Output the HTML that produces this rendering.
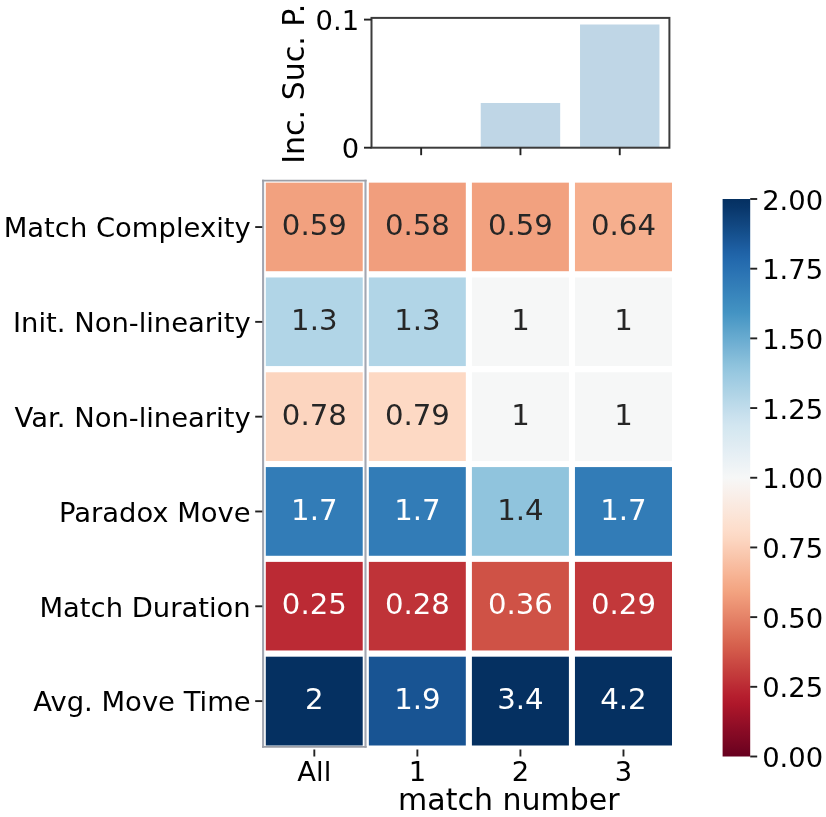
<!DOCTYPE html>
<html><head><meta charset="utf-8"><title>heatmap</title>
<style>html,body{margin:0;padding:0;background:#fff}svg{display:block;filter:blur(0.45px)}</style></head>
<body>
<svg width="826" height="817" viewBox="0 0 826 817" font-family='"DejaVu Sans","Liberation Sans",sans-serif'>
<rect width="826" height="817" fill="#fff"/>
<defs><linearGradient id="cb" x1="0" y1="1" x2="0" y2="0">
<stop offset="0.0000" stop-color="#67001f"/>
<stop offset="0.0156" stop-color="#730421"/>
<stop offset="0.0312" stop-color="#7f0823"/>
<stop offset="0.0469" stop-color="#8a0b25"/>
<stop offset="0.0625" stop-color="#960f27"/>
<stop offset="0.0781" stop-color="#a21328"/>
<stop offset="0.0938" stop-color="#ae172a"/>
<stop offset="0.1094" stop-color="#b61f2e"/>
<stop offset="0.1250" stop-color="#bb2a34"/>
<stop offset="0.1406" stop-color="#c13639"/>
<stop offset="0.1562" stop-color="#c6413e"/>
<stop offset="0.1719" stop-color="#cc4c44"/>
<stop offset="0.1875" stop-color="#d25849"/>
<stop offset="0.2031" stop-color="#d7634f"/>
<stop offset="0.2188" stop-color="#dc6e57"/>
<stop offset="0.2344" stop-color="#e17860"/>
<stop offset="0.2500" stop-color="#e58368"/>
<stop offset="0.2656" stop-color="#ea8e70"/>
<stop offset="0.2812" stop-color="#ef9979"/>
<stop offset="0.2969" stop-color="#f3a481"/>
<stop offset="0.3125" stop-color="#f5ac8b"/>
<stop offset="0.3281" stop-color="#f7b596"/>
<stop offset="0.3438" stop-color="#f8bda1"/>
<stop offset="0.3594" stop-color="#f9c6ac"/>
<stop offset="0.3750" stop-color="#fbceb7"/>
<stop offset="0.3906" stop-color="#fcd7c2"/>
<stop offset="0.4062" stop-color="#fdddcb"/>
<stop offset="0.4219" stop-color="#fce2d2"/>
<stop offset="0.4375" stop-color="#fbe6da"/>
<stop offset="0.4531" stop-color="#faeae1"/>
<stop offset="0.4688" stop-color="#f9efe9"/>
<stop offset="0.4844" stop-color="#f8f3f0"/>
<stop offset="0.5000" stop-color="#f6f7f7"/>
<stop offset="0.5156" stop-color="#f0f4f6"/>
<stop offset="0.5312" stop-color="#eaf1f5"/>
<stop offset="0.5469" stop-color="#e4eef4"/>
<stop offset="0.5625" stop-color="#deebf2"/>
<stop offset="0.5781" stop-color="#d8e9f1"/>
<stop offset="0.5938" stop-color="#d2e6f0"/>
<stop offset="0.6094" stop-color="#cae1ee"/>
<stop offset="0.6250" stop-color="#c0dceb"/>
<stop offset="0.6406" stop-color="#b6d7e8"/>
<stop offset="0.6562" stop-color="#acd2e5"/>
<stop offset="0.6719" stop-color="#a2cde3"/>
<stop offset="0.6875" stop-color="#98c8e0"/>
<stop offset="0.7031" stop-color="#8dc2dc"/>
<stop offset="0.7188" stop-color="#81bad8"/>
<stop offset="0.7344" stop-color="#75b2d4"/>
<stop offset="0.7500" stop-color="#68abd0"/>
<stop offset="0.7656" stop-color="#5ca3cb"/>
<stop offset="0.7812" stop-color="#4f9bc7"/>
<stop offset="0.7969" stop-color="#4393c3"/>
<stop offset="0.8125" stop-color="#3e8cbf"/>
<stop offset="0.8281" stop-color="#3885bc"/>
<stop offset="0.8438" stop-color="#337eb8"/>
<stop offset="0.8594" stop-color="#2e77b5"/>
<stop offset="0.8750" stop-color="#2870b1"/>
<stop offset="0.8906" stop-color="#2369ad"/>
<stop offset="0.9062" stop-color="#1e61a5"/>
<stop offset="0.9219" stop-color="#1a5899"/>
<stop offset="0.9375" stop-color="#15508d"/>
<stop offset="0.9531" stop-color="#114781"/>
<stop offset="0.9688" stop-color="#0d3f76"/>
<stop offset="0.9844" stop-color="#08366a"/>
<stop offset="1.0000" stop-color="#053061"/>
</linearGradient></defs>
<rect x="262.80" y="179.65" width="103.05" height="94.81" fill="#f2a17f" stroke="#fff" stroke-width="6.0"/>
<rect x="365.85" y="179.65" width="103.05" height="94.81" fill="#f19e7d" stroke="#fff" stroke-width="6.0"/>
<rect x="468.90" y="179.65" width="103.05" height="94.81" fill="#f2a17f" stroke="#fff" stroke-width="6.0"/>
<rect x="571.95" y="179.65" width="103.05" height="94.81" fill="#f6af8e" stroke="#fff" stroke-width="6.0"/>
<rect x="262.80" y="274.46" width="103.05" height="94.81" fill="#b1d5e7" stroke="#fff" stroke-width="6.0"/>
<rect x="365.85" y="274.46" width="103.05" height="94.81" fill="#b1d5e7" stroke="#fff" stroke-width="6.0"/>
<rect x="468.90" y="274.46" width="103.05" height="94.81" fill="#f6f7f7" stroke="#fff" stroke-width="6.0"/>
<rect x="571.95" y="274.46" width="103.05" height="94.81" fill="#f6f7f7" stroke="#fff" stroke-width="6.0"/>
<rect x="262.80" y="369.27" width="103.05" height="94.81" fill="#fcd5bf" stroke="#fff" stroke-width="6.0"/>
<rect x="365.85" y="369.27" width="103.05" height="94.81" fill="#fdd9c4" stroke="#fff" stroke-width="6.0"/>
<rect x="468.90" y="369.27" width="103.05" height="94.81" fill="#f6f7f7" stroke="#fff" stroke-width="6.0"/>
<rect x="571.95" y="369.27" width="103.05" height="94.81" fill="#f6f7f7" stroke="#fff" stroke-width="6.0"/>
<rect x="262.80" y="464.08" width="103.05" height="94.81" fill="#327cb7" stroke="#fff" stroke-width="6.0"/>
<rect x="365.85" y="464.08" width="103.05" height="94.81" fill="#327cb7" stroke="#fff" stroke-width="6.0"/>
<rect x="468.90" y="464.08" width="103.05" height="94.81" fill="#90c4dd" stroke="#fff" stroke-width="6.0"/>
<rect x="571.95" y="464.08" width="103.05" height="94.81" fill="#327cb7" stroke="#fff" stroke-width="6.0"/>
<rect x="262.80" y="558.88" width="103.05" height="94.81" fill="#bb2a34" stroke="#fff" stroke-width="6.0"/>
<rect x="365.85" y="558.88" width="103.05" height="94.81" fill="#bf3338" stroke="#fff" stroke-width="6.0"/>
<rect x="468.90" y="558.88" width="103.05" height="94.81" fill="#cf5246" stroke="#fff" stroke-width="6.0"/>
<rect x="571.95" y="558.88" width="103.05" height="94.81" fill="#c2383a" stroke="#fff" stroke-width="6.0"/>
<rect x="262.80" y="653.69" width="103.05" height="94.81" fill="#053061" stroke="#fff" stroke-width="6.0"/>
<rect x="365.85" y="653.69" width="103.05" height="94.81" fill="#185493" stroke="#fff" stroke-width="6.0"/>
<rect x="468.90" y="653.69" width="103.05" height="94.81" fill="#053061" stroke="#fff" stroke-width="6.0"/>
<rect x="571.95" y="653.69" width="103.05" height="94.81" fill="#053061" stroke="#fff" stroke-width="6.0"/>
<text x="314.32" y="235.21" font-size="29.2" text-anchor="middle" fill="#262626">0.59</text>
<text x="417.38" y="235.21" font-size="29.2" text-anchor="middle" fill="#262626">0.58</text>
<text x="520.42" y="235.21" font-size="29.2" text-anchor="middle" fill="#262626">0.59</text>
<text x="623.48" y="235.21" font-size="29.2" text-anchor="middle" fill="#262626">0.64</text>
<text x="314.32" y="330.02" font-size="29.2" text-anchor="middle" fill="#262626">1.3</text>
<text x="417.38" y="330.02" font-size="29.2" text-anchor="middle" fill="#262626">1.3</text>
<text x="520.42" y="330.02" font-size="29.2" text-anchor="middle" fill="#262626">1</text>
<text x="623.48" y="330.02" font-size="29.2" text-anchor="middle" fill="#262626">1</text>
<text x="314.32" y="424.83" font-size="29.2" text-anchor="middle" fill="#262626">0.78</text>
<text x="417.38" y="424.83" font-size="29.2" text-anchor="middle" fill="#262626">0.79</text>
<text x="520.42" y="424.83" font-size="29.2" text-anchor="middle" fill="#262626">1</text>
<text x="623.48" y="424.83" font-size="29.2" text-anchor="middle" fill="#262626">1</text>
<text x="314.32" y="519.64" font-size="29.2" text-anchor="middle" fill="#fff">1.7</text>
<text x="417.38" y="519.64" font-size="29.2" text-anchor="middle" fill="#fff">1.7</text>
<text x="520.42" y="519.64" font-size="29.2" text-anchor="middle" fill="#262626">1.4</text>
<text x="623.48" y="519.64" font-size="29.2" text-anchor="middle" fill="#fff">1.7</text>
<text x="314.32" y="614.45" font-size="29.2" text-anchor="middle" fill="#fff">0.25</text>
<text x="417.38" y="614.45" font-size="29.2" text-anchor="middle" fill="#fff">0.28</text>
<text x="520.42" y="614.45" font-size="29.2" text-anchor="middle" fill="#fff">0.36</text>
<text x="623.48" y="614.45" font-size="29.2" text-anchor="middle" fill="#fff">0.29</text>
<text x="314.32" y="709.25" font-size="29.2" text-anchor="middle" fill="#fff">2</text>
<text x="417.38" y="709.25" font-size="29.2" text-anchor="middle" fill="#fff">1.9</text>
<text x="520.42" y="709.25" font-size="29.2" text-anchor="middle" fill="#fff">3.4</text>
<text x="623.48" y="709.25" font-size="29.2" text-anchor="middle" fill="#fff">4.2</text>
<path d="M263.1 179.7V747.8M365.5 179.7V747.8" fill="none" stroke="#a2a7b2" stroke-width="2.1"/>
<path d="M262 180.7H366.6M262 746.8H366.6" fill="none" stroke="#9c9ea6" stroke-width="1.7"/>
<line x1="255.20" x2="262.30" y1="227.05" y2="227.05" stroke="#222" stroke-width="1.9"/>
<text x="250.70" y="237.36" font-size="27.4" text-anchor="end" fill="#000">Match Complexity</text>
<line x1="255.20" x2="262.30" y1="321.86" y2="321.86" stroke="#222" stroke-width="1.9"/>
<text x="250.70" y="332.16" font-size="27.4" text-anchor="end" fill="#000">Init. Non-linearity</text>
<line x1="255.20" x2="262.30" y1="416.67" y2="416.67" stroke="#222" stroke-width="1.9"/>
<text x="250.70" y="426.97" font-size="27.4" text-anchor="end" fill="#000">Var. Non-linearity</text>
<line x1="255.20" x2="262.30" y1="511.48" y2="511.48" stroke="#222" stroke-width="1.9"/>
<text x="250.70" y="521.78" font-size="27.4" text-anchor="end" fill="#000">Paradox Move</text>
<line x1="255.20" x2="262.30" y1="606.29" y2="606.29" stroke="#222" stroke-width="1.9"/>
<text x="250.70" y="616.59" font-size="27.4" text-anchor="end" fill="#000">Match Duration</text>
<line x1="255.20" x2="262.30" y1="701.10" y2="701.10" stroke="#222" stroke-width="1.9"/>
<text x="250.70" y="711.40" font-size="27.4" text-anchor="end" fill="#000">Avg. Move Time</text>
<line x1="314.32" x2="314.32" y1="749.50" y2="756.50" stroke="#222" stroke-width="1.9"/>
<text x="314.32" y="780.8" font-size="27.4" text-anchor="middle" fill="#000">All</text>
<line x1="417.38" x2="417.38" y1="749.50" y2="756.50" stroke="#222" stroke-width="1.9"/>
<text x="417.38" y="780.8" font-size="27.4" text-anchor="middle" fill="#000">1</text>
<line x1="520.42" x2="520.42" y1="749.50" y2="756.50" stroke="#222" stroke-width="1.9"/>
<text x="520.42" y="780.8" font-size="27.4" text-anchor="middle" fill="#000">2</text>
<line x1="623.48" x2="623.48" y1="749.50" y2="756.50" stroke="#222" stroke-width="1.9"/>
<text x="623.48" y="780.8" font-size="27.4" text-anchor="middle" fill="#000">3</text>
<text x="508.8" y="810.2" font-size="30.0" text-anchor="middle" fill="#000">match number</text>
<rect x="722.6" y="199.0" width="27.600000000000023" height="557.5" fill="url(#cb)"/>
<line x1="750.20" x2="757.20" y1="756.50" y2="756.50" stroke="#222" stroke-width="1.9"/>
<text x="762.20" y="767.10" font-size="27.4" fill="#000">0.00</text>
<line x1="750.20" x2="757.20" y1="686.81" y2="686.81" stroke="#222" stroke-width="1.9"/>
<text x="762.20" y="697.41" font-size="27.4" fill="#000">0.25</text>
<line x1="750.20" x2="757.20" y1="617.12" y2="617.12" stroke="#222" stroke-width="1.9"/>
<text x="762.20" y="627.73" font-size="27.4" fill="#000">0.50</text>
<line x1="750.20" x2="757.20" y1="547.44" y2="547.44" stroke="#222" stroke-width="1.9"/>
<text x="762.20" y="558.04" font-size="27.4" fill="#000">0.75</text>
<line x1="750.20" x2="757.20" y1="477.75" y2="477.75" stroke="#222" stroke-width="1.9"/>
<text x="762.20" y="488.35" font-size="27.4" fill="#000">1.00</text>
<line x1="750.20" x2="757.20" y1="408.06" y2="408.06" stroke="#222" stroke-width="1.9"/>
<text x="762.20" y="418.66" font-size="27.4" fill="#000">1.25</text>
<line x1="750.20" x2="757.20" y1="338.38" y2="338.38" stroke="#222" stroke-width="1.9"/>
<text x="762.20" y="348.98" font-size="27.4" fill="#000">1.50</text>
<line x1="750.20" x2="757.20" y1="268.69" y2="268.69" stroke="#222" stroke-width="1.9"/>
<text x="762.20" y="279.29" font-size="27.4" fill="#000">1.75</text>
<line x1="750.20" x2="757.20" y1="199.00" y2="199.00" stroke="#222" stroke-width="1.9"/>
<text x="762.20" y="209.60" font-size="27.4" fill="#000">2.00</text>
<rect x="480.73" y="102.99" width="79.44" height="44.71" fill="#bfd6e6"/>
<rect x="580.03" y="24.50" width="79.44" height="123.20" fill="#bfd6e6"/>
<rect x="371.5" y="17.9" width="297.9" height="129.79999999999998" fill="none" stroke="#3c3c3c" stroke-width="2.0"/>
<line x1="421.15" x2="421.15" y1="147.70" y2="155.20" stroke="#222" stroke-width="1.9"/>
<line x1="520.45" x2="520.45" y1="147.70" y2="155.20" stroke="#222" stroke-width="1.9"/>
<line x1="619.75" x2="619.75" y1="147.70" y2="155.20" stroke="#222" stroke-width="1.9"/>
<line x1="364.00" x2="371.50" y1="147.70" y2="147.70" stroke="#222" stroke-width="1.9"/>
<text x="359.10" y="158.40" font-size="27.4" text-anchor="end" fill="#000">0</text>
<line x1="364.00" x2="371.50" y1="19.60" y2="19.60" stroke="#222" stroke-width="1.9"/>
<text x="359.10" y="30.30" font-size="27.4" text-anchor="end" fill="#000">0.1</text>
<text transform="translate(304.3,163.8) rotate(-90)" font-size="30.0" fill="#000">Inc. Suc. P.</text>
</svg>
</body></html>
